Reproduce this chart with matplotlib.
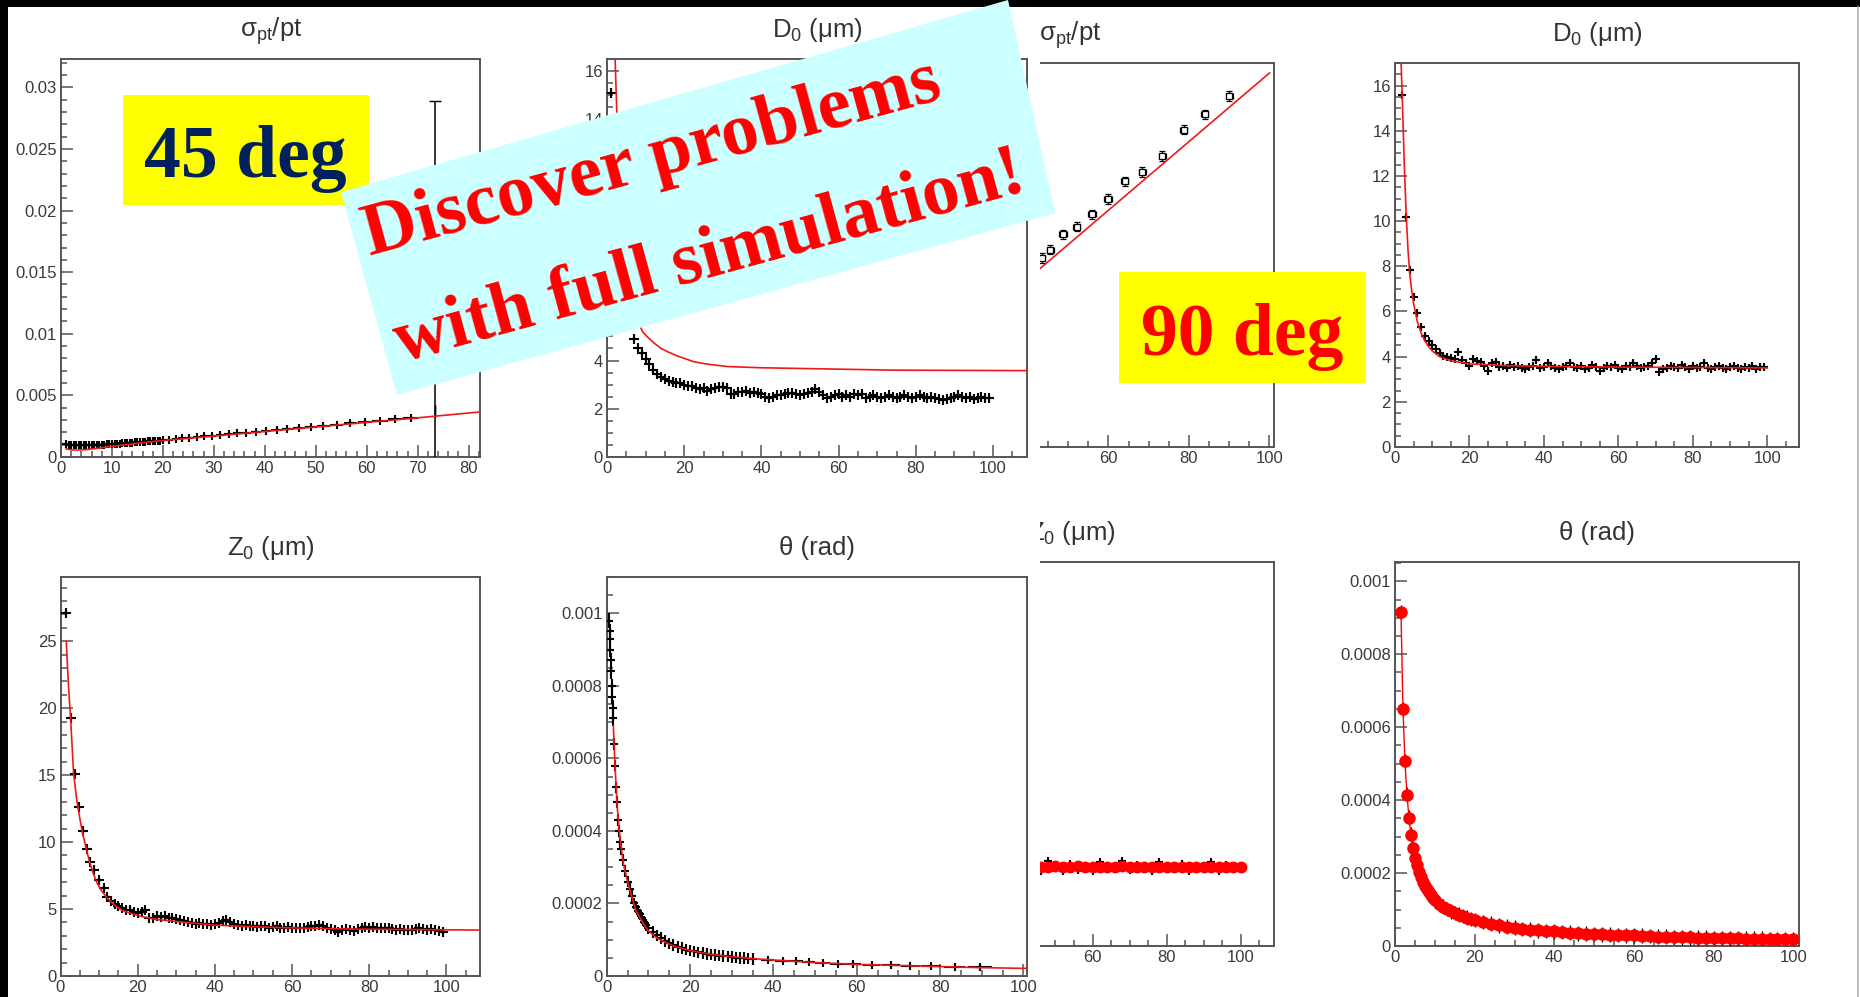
import matplotlib
matplotlib.use('Agg')
import matplotlib.pyplot as plt
from matplotlib.ticker import MultipleLocator, FuncFormatter
from matplotlib.patches import Polygon, Rectangle

plt.rcParams['font.family'] = ['Liberation Sans', 'DejaVu Sans']
plt.rcParams['mathtext.fontset'] = 'custom'
plt.rcParams['mathtext.rm'] = 'Liberation Sans'
plt.rcParams['mathtext.it'] = 'Liberation Sans:italic'

# ---------------- data: 45 deg ----------------
# sigma_pt/pt (45 deg)
spt45_x = [1.0, 1.5, 2.0, 2.5, 3.0, 3.5, 4.0, 4.5, 5.0, 5.5, 6.0, 6.5, 7.0, 7.5,
           8.0, 8.5, 9.0, 9.5, 10.0, 10.5, 11.0, 11.5, 12.0, 12.5, 13.0, 13.5,
           14.0, 14.5, 15.0, 15.5, 16.0, 16.5, 17.0, 17.5, 18.0, 18.5, 19.0,
           19.5, 20.0]
spt45_y = [0.00105, 0.00100, 0.00098, 0.00096, 0.00095, 0.00094, 0.00094,
           0.00094, 0.00095, 0.00095, 0.00096, 0.00097, 0.00098, 0.00099,
           0.00100, 0.00101, 0.00102, 0.00104, 0.00105, 0.00106, 0.00108,
           0.00109, 0.00111, 0.00112, 0.00114, 0.00115, 0.00117, 0.00118,
           0.00120, 0.00121, 0.00123, 0.00124, 0.00126, 0.00127, 0.00129,
           0.00130, 0.00132, 0.00133, 0.00135]
spt45_x2 = [21.2, 22.5, 23.8, 25.2, 26.6, 28.1, 29.6, 31.2, 32.9, 34.6, 36.4,
            38.3, 40.2, 42.3, 44.4, 46.7, 49.0, 51.5, 54.1, 56.8, 59.6, 62.6,
            65.6, 68.6]
spt45_xe2 = [0.6, 0.65, 0.65, 0.7, 0.7, 0.75, 0.75, 0.8, 0.85, 0.85, 0.9, 0.95,
             0.95, 1.05, 1.05, 1.15, 1.15, 1.25, 1.3, 1.35, 1.4, 1.5, 1.5, 1.5]
spt45_y2 = [0.00141, 0.00146, 0.00151, 0.00156, 0.00161, 0.00167, 0.00172,
            0.00178, 0.00185, 0.00191, 0.00198, 0.00205, 0.00212, 0.00220,
            0.00227, 0.00236, 0.00244, 0.00254, 0.00263, 0.00273, 0.00284,
            0.00295, 0.00306, 0.00317]
spt45_out_x, spt45_out_y, spt45_out_e = [73.4], [0.0037], [0.0252]
spt45_fit_x = [1, 2, 3, 5, 7, 10, 15, 20, 30, 40, 50, 60, 70, 82.3]
spt45_fit_y = [0.00066, 0.00058, 0.00056, 0.0006, 0.0007, 0.00086, 0.00111,
               0.00134, 0.0017, 0.00207, 0.00244, 0.00281, 0.00318, 0.00366]

# D0 (45 deg)
d045_x = list(range(1, 100))
d045_y = [15.1, 12.0, 9.6, 7.9, 6.7, 5.5, 4.9, 4.5, 4.3, 4.05,
          3.85, 3.6, 3.45, 3.33, 3.25, 3.15, 3.1, 3.05, 3.05, 3.0,
          2.95, 2.95, 2.85, 2.8, 2.85, 2.75, 2.8, 2.85, 2.9, 2.9,
          2.85, 2.6, 2.6, 2.7, 2.7, 2.75, 2.65, 2.7, 2.65, 2.6,
          2.5, 2.45, 2.5, 2.55, 2.55, 2.6, 2.65, 2.65, 2.6, 2.55,
          2.6, 2.65, 2.7, 2.8, 2.7, 2.55, 2.45, 2.5, 2.55, 2.6,
          2.5, 2.55, 2.5, 2.6, 2.55, 2.6, 2.45, 2.5, 2.55, 2.5,
          2.45, 2.5, 2.55, 2.5, 2.45, 2.5, 2.55, 2.5, 2.45, 2.5,
          2.55, 2.5, 2.45, 2.5, 2.45, 2.4, 2.35, 2.4, 2.45, 2.5,
          2.55, 2.5, 2.45, 2.5, 2.4, 2.45, 2.5, 2.45, 2.45]
d045_fit_x = [2.1, 2.3, 2.6, 3, 4, 5, 6, 7, 7.8, 8.5, 9.2, 10.4, 12, 13.9,
              15.5, 18.2, 22.5, 26, 31.2, 39.8, 57.2, 74.6, 108.8]
d045_fit_y = [16.5, 15.5, 14.0, 12.5, 9.8, 8.1, 6.9, 6.15, 5.68, 5.45, 5.2,
              4.99, 4.75, 4.51, 4.38, 4.19, 3.95, 3.85, 3.75, 3.7, 3.65, 3.6,
              3.58]

# Z0 (45 deg)
z045_x = [1.3, 2.6, 3.8, 4.9, 5.9, 6.8, 7.7, 8.6, 9.9, 11.2] + list(range(12, 100))
z045_y = [27.1, 19.3, 15.1, 12.6, 10.8, 9.5, 8.5, 7.9, 7.2, 6.6,
          5.9, 5.6, 5.35, 5.2, 5.1, 4.95, 4.9, 4.8, 4.7,
          4.75, 4.9, 4.3, 4.35, 4.45, 4.4, 4.45, 4.35, 4.3, 4.25,
          4.2, 4.1, 4.0, 3.95, 3.9, 3.95, 3.9, 3.85, 3.8, 3.85,
          3.95, 4.1, 4.15, 4.0, 3.85, 3.8, 3.75, 3.8, 3.7, 3.75,
          3.65, 3.7, 3.75, 3.6, 3.65, 3.7, 3.6, 3.55, 3.65, 3.6,
          3.55, 3.6, 3.55, 3.65, 3.7, 3.75, 3.8, 3.7, 3.6, 3.5,
          3.45, 3.3, 3.4, 3.5, 3.45, 3.35, 3.5, 3.6, 3.65, 3.6,
          3.65, 3.6, 3.55, 3.6, 3.55, 3.5, 3.45, 3.5, 3.4, 3.45,
          3.4, 3.5, 3.55, 3.5, 3.45, 3.5, 3.4, 3.35, 3.3]
z045_fit_x = [1.5, 2, 2.6, 3.4, 4.1, 4.8, 5.7, 6.6, 7.5, 8.5, 9.4, 10.3, 12.2,
              14, 15.9, 18.5, 21.4, 25, 30.7, 39.9, 50, 58.5, 77, 108.8]
z045_fit_y = [25.0, 22.0, 19.3, 15.1, 13.4, 12.1, 10.7, 9.6, 8.55, 7.65, 7.0,
              6.5, 5.79, 5.3, 4.92, 4.65, 4.42, 4.22, 4.05, 3.8, 3.68, 3.6,
              3.5, 3.43]

# theta (45 deg)
th45_xa = [0.6, 0.7, 0.8, 0.9, 1.0, 1.1, 1.2, 1.3, 1.4, 1.5]
th45_ya = [0.00098, 0.00095, 0.00093, 0.0009, 0.00087, 0.00084, 0.0008,
           0.00077, 0.00074, 0.00071]
th45_xb = [1.75, 2, 2.25, 2.5, 2.75, 3, 3.25, 3.5, 4, 4.5, 5, 5.5, 6, 6.5, 7,
           7.5, 8, 8.5, 9, 9.5, 10, 11, 12, 13, 14, 15, 16, 17, 18, 19, 20,
           21, 22, 23, 24, 25, 26, 27, 28, 29, 30, 31, 32, 33, 34, 35]
th45_yb = [0.00064, 0.00058, 0.00052, 0.00048, 0.00043, 0.0004, 0.00037,
           0.00035, 0.00032, 0.00029, 0.00026, 0.00024, 0.00022, 0.0002,
           0.00019, 0.00018, 0.00017, 0.00016, 0.00015, 0.00014, 0.000133,
           0.000122, 0.000112, 0.000104, 0.000097, 0.00009, 0.000085, 0.00008,
           0.000077, 0.000073, 0.00007, 0.000068, 0.000065, 0.000063,
           0.000061, 0.000059, 0.000058, 0.000056, 0.000055, 0.000054,
           0.000052, 0.000051, 0.00005, 0.000049, 0.000048, 0.000047]
th45_xc = [38.6, 42.2, 45.4, 48.5, 51.8, 55.4, 59.1, 63.6, 68.2, 72.9, 77.9,
           83.5, 89.6]
th45_xec = [1.6, 1.7, 1.6, 1.6, 1.7, 1.8, 1.9, 2.1, 2.2, 2.3, 2.4, 2.6, 2.8]
th45_yc = [0.000045, 0.000042, 0.00004, 0.000038, 0.000036, 0.000034,
           0.000033, 0.000031, 0.00003, 0.000028, 0.000027, 0.000026, 0.000024]
th45_fit_x = [1.6, 2, 2.5, 3, 3.4, 4, 5, 5.8, 7, 8, 9.8, 12, 13.7, 16, 20, 25,
              30, 35, 40, 50, 60, 70, 80, 90, 100.8]
th45_fit_y = [0.00069, 0.00058, 0.00047, 0.0004, 0.00036, 0.00031, 0.00026,
              0.000228, 0.00018, 0.00016, 0.000127, 0.000105, 0.000095,
              0.000083, 0.00007, 0.00006, 0.000053, 0.000048, 0.000044,
              0.000037, 0.000032, 0.000029, 0.000026, 0.000023, 0.000021]

# ---------------- data: 90 deg ----------------
spt90_x = [43.4, 45.5, 48.7, 52.1, 55.9, 59.9, 64.0, 68.4, 73.4, 78.7, 83.9, 90.0]
spt90_y = [0.00246, 0.00257, 0.00277, 0.00287, 0.00303, 0.00323, 0.00346,
           0.00358, 0.00379, 0.00413, 0.00433, 0.00457]
spt90_fit_x = [40, 100]
spt90_fit_y = [0.00219, 0.00487]

d090_x = list(range(2, 100))
d090_y = [15.6, 10.2, 7.85, 6.65, 5.95, 5.3, 4.9, 4.7, 4.5,
          4.35, 4.15, 4.05, 4.0, 3.95, 3.9, 4.2, 3.85, 3.7, 3.6,
          3.9, 3.8, 3.75, 3.6, 3.35, 3.7, 3.75, 3.55, 3.6, 3.5,
          3.65, 3.55, 3.6, 3.5, 3.45, 3.55, 3.6, 3.85, 3.5, 3.55,
          3.7, 3.6, 3.5, 3.45, 3.55, 3.6, 3.7, 3.55, 3.5, 3.6,
          3.45, 3.5, 3.65, 3.55, 3.35, 3.5, 3.6, 3.55, 3.65, 3.5,
          3.45, 3.6, 3.55, 3.7, 3.6, 3.5, 3.55, 3.6, 3.7, 3.9,
          3.3, 3.45, 3.5, 3.6, 3.55, 3.5, 3.65, 3.55, 3.45, 3.6,
          3.5, 3.55, 3.7, 3.5, 3.45, 3.55, 3.6, 3.5, 3.45, 3.55,
          3.6, 3.5, 3.45, 3.55, 3.5, 3.6, 3.45, 3.55, 3.55]
d090_fit_x = [1.6, 2, 2.5, 3, 3.5, 4, 4.5, 5, 6, 7, 8, 9, 10, 12, 15, 20, 30,
              50, 100]
d090_fit_y = [17.2, 15.2, 12.5, 10.3, 8.7, 7.6, 6.9, 6.35, 5.55, 5.05, 4.7,
              4.45, 4.25, 4.0, 3.82, 3.68, 3.6, 3.55, 3.5]

z090_x = [44, 46, 48, 50, 52, 54, 56, 58, 60, 62, 64, 66, 68, 70, 72, 74, 76,
          78, 80, 82, 84, 86, 88, 90, 92, 94, 96, 98, 100]
z090_fit = [3.52, 3.5, 3.51, 3.53, 3.5, 3.49, 3.52, 3.5, 3.51, 3.5, 3.48, 3.5,
            3.52, 3.5, 3.49, 3.5, 3.51, 3.5, 3.48, 3.5, 3.5, 3.49, 3.51, 3.5,
            3.48, 3.5, 3.49, 3.5, 3.5]
z090_meas = [3.6, 3.3, 3.75, 3.45, 3.3, 3.65, 3.35, 3.55, 3.3, 3.7, 3.4, 3.5,
             3.75, 3.35, 3.6, 3.45, 3.3, 3.7, 3.5, 3.4, 3.65, 3.3, 3.55, 3.45,
             3.7, 3.3, 3.6, 3.4, 3.5]

th90_x = [1.5, 2, 2.5, 3, 3.5, 4, 4.5, 5, 5.5, 6, 6.5, 7, 7.5, 8, 8.5, 9, 9.5,
          10, 11, 12, 13, 14, 15, 16, 17, 18, 19, 20, 22, 24, 26, 28, 30, 32,
          34, 36, 38, 40, 42, 44, 46, 48, 50, 52, 54, 56, 58, 60, 62, 64, 66,
          68, 70, 72, 74, 76, 78, 80, 82, 84, 86, 88, 90, 92, 94, 96, 98, 100]
th90_y = [0.000916, 0.00065, 0.000506, 0.000415, 0.000352, 0.000305,
          0.000269, 0.000242, 0.000221, 0.000203, 0.000188, 0.000176,
          0.000165, 0.000155, 0.000147, 0.000139, 0.000132, 0.000126,
          0.000115, 0.000108, 0.000101, 0.000095, 0.00009, 0.000086,
          0.000082, 0.000078, 0.000074, 0.000071, 0.000066, 0.000061,
          0.000057, 0.000053, 0.00005, 0.000047, 0.000045, 0.000043, 0.000041,
          0.00004, 0.000038, 0.000037, 0.000035, 0.000034, 0.000033, 0.000032,
          0.000031, 0.00003, 0.000029, 0.000029, 0.000028, 0.000027, 0.000026,
          0.000026, 0.000025, 0.000024, 0.000024, 0.000023, 0.000023, 0.000022,
          0.000022, 0.000021, 0.000021, 0.00002, 0.00002, 0.00002, 0.000019,
          0.000019, 0.000019, 0.000018]

W, H = 1860, 997
fig = plt.figure(figsize=(W / 100, H / 100), dpi=100, facecolor='black')


def px_axes(l, t, r, b, z):
    return fig.add_axes([l / W, 1 - b / H, (r - l) / W, (b - t) / H], zorder=z)


def white_sheet(l, t, r, b, z):
    fig.add_artist(Rectangle((l / W, 1 - b / H), (r - l) / W, (b - t) / H,
                             transform=fig.transFigure, fc='white', ec='none',
                             zorder=z))


def root_panel(l, t, r, b, z, xlim, ylim, xt, yt, title):
    ax = px_axes(l, t, r, b, z)
    ax.set_facecolor('white')
    ax.set_xlim(*xlim)
    ax.set_ylim(*ylim)
    ax.xaxis.set_major_locator(MultipleLocator(xt[0]))
    ax.xaxis.set_minor_locator(MultipleLocator(xt[1]))
    ax.yaxis.set_major_locator(MultipleLocator(yt[0]))
    ax.yaxis.set_minor_locator(MultipleLocator(yt[1]))
    fmt = FuncFormatter(lambda v, p: f'{v:g}')
    ax.xaxis.set_major_formatter(fmt)
    ax.yaxis.set_major_formatter(fmt)
    ax.tick_params(which='both', direction='in', top=False, right=False,
                   color='#555555', labelcolor='#3a3a3a', labelsize=12, width=1.1)
    ax.tick_params(which='major', length=8.5)
    ax.tick_params(which='minor', length=4.3)
    ax.tick_params(axis='x', pad=3)
    ax.tick_params(axis='y', pad=3)
    for s in ax.spines.values():
        s.set_color('#555555')
        s.set_linewidth(1.4)
    ax.set_title(title, fontsize=18.5, color='#333333', pad=16)
    return ax


def meas(ax, x, y, xe, ye, ms=6):
    ax.errorbar(x, y, xerr=xe, yerr=ye, fmt='+', color='black', ms=ms,
                mew=1.5, elinewidth=1.5, zorder=3)


RED_FIT = '#f01818'


def fit(ax, x, y):
    ax.plot(x, y, color=RED_FIT, lw=1.2, zorder=4)


# ---------------- right picture (90 deg), drawn underneath ----------------
white_sheet(1040, 7, 1860, 997, 0.5)

ax3 = root_panel(867, 63, 1273.5, 447, 1, (0, 101), (0, 0.005),
                 (20, 5), (0.001, 0.0002), r'σ$\mathregular{_{pt}}$/pt')
ax3.errorbar(spt90_x, spt90_y, xerr=0.9, yerr=0.00006, fmt='s', mfc='white',
             mec='black', ecolor='black', ms=4.5, mew=0.9, elinewidth=0.9,
             capsize=2.5, zorder=3)
ax3.plot(spt90_fit_x, spt90_fit_y, color=RED_FIT, lw=1.2, zorder=4)

ax4 = root_panel(1395, 63, 1799, 447, 1, (0, 108.5), (0, 17.0),
                 (20, 5), (2, 0.5), r'D$\mathregular{_0}$ (μm)')
meas(ax4, d090_x, d090_y, 0.5, 0.13)
fit(ax4, d090_fit_x, d090_fit_y)

ax7 = root_panel(870, 562, 1273.5, 946, 1, (0, 108.8), (0, 17.0),
                 (20, 5), (2, 0.5), r'Z$\mathregular{_0}$ (μm)')
meas(ax7, z090_x, z090_meas, 0.5, 0.12)
ax7.plot(z090_x, z090_fit, color='red', marker='o', ms=7.5, lw=1, zorder=4)

ax8 = root_panel(1395, 562, 1799, 946, 1, (0, 101.4), (0, 0.001053),
                 (20, 5), (0.0002, 0.00005), 'θ (rad)')
ax8.errorbar(th90_x, th90_y, xerr=0.25, yerr=0.00002, fmt='none',
             ecolor='black', elinewidth=0.9, zorder=3)
ax8.plot(th90_x, th90_y, color='red', marker='o', ms=8, lw=1, zorder=4)

# ---------------- left picture (45 deg), on top ----------------
white_sheet(8, 7, 1040, 997, 2)

ax1 = root_panel(61, 59, 480.4, 457, 3, (0, 82.3), (0, 0.0323),
                 (10, 2), (0.005, 0.001), r'σ$\mathregular{_{pt}}$/pt')
meas(ax1, spt45_x, spt45_y, 0.25, 0.00013)
meas(ax1, spt45_x2, spt45_y2, spt45_xe2, 0.00013)
ax1.errorbar(spt45_out_x, spt45_out_y, xerr=0.0, yerr=spt45_out_e, fmt='none',
             ecolor='black', elinewidth=1.1, capsize=4, zorder=3)
fit(ax1, spt45_fit_x, spt45_fit_y)

ax2 = root_panel(607, 59, 1027, 457, 3, (0, 108.8), (0, 16.5),
                 (20, 5), (2, 0.5), r'D$\mathregular{_0}$ (μm)')
meas(ax2, d045_x, d045_y, 0.5, 0.15, ms=7)
fit(ax2, d045_fit_x, d045_fit_y)

ax5 = root_panel(60.5, 577, 480.4, 976, 3, (0, 108.8), (0, 29.8),
                 (20, 5), (5, 1), r'Z$\mathregular{_0}$ (μm)')
meas(ax5, z045_x, z045_y, 0.5, 0.22, ms=7)
fit(ax5, z045_fit_x, z045_fit_y)

ax6 = root_panel(606.7, 577, 1026.7, 976, 3, (0, 100.8), (0, 0.0011),
                 (20, 5), (0.0002, 0.00005), 'θ (rad)')
meas(ax6, th45_xa, th45_ya, 0.5, 0.00002)
meas(ax6, th45_xb, th45_yb, 0.45, 0.000016)
meas(ax6, th45_xc, th45_yc, th45_xec, 0.000007)
fit(ax6, th45_fit_x, th45_fit_y)

# ---------------- slide overlays (pixel coordinates) ----------------
ov = fig.add_axes([0, 0, 1, 1], zorder=10)
ov.set_xlim(0, W)
ov.set_ylim(H, 0)
ov.axis('off')

ov.plot([1858, 1858], [7, 997], color='#b0b0b0', lw=1.2)

ov.add_patch(Rectangle((122.6, 95), 246.3, 110, fc='#ffff00', ec='none', zorder=1))
ov.add_patch(Rectangle((1119, 272), 247, 111, fc='#ffff00', ec='none', zorder=1))
ov.add_patch(Polygon([(341, 192), (1008, 0), (1055, 213), (397, 395)],
                     closed=True, fc='#ccffff', ec='none', zorder=2))

serif = dict(family='Liberation Serif', fontweight='bold', zorder=3)
ov.text(245, 177, '45 deg', ha='center', va='baseline', fontsize=53,
        color='#00215e', **serif)
ov.text(1242, 355, '90 deg', ha='center', va='baseline', fontsize=53,
        color='#ff0000', **serif)
ov.text(657, 177, 'Discover problems', ha='center', va='baseline',
        rotation=15.3, rotation_mode='anchor', fontsize=54, color='#ff0000',
        **serif)
ov.text(715, 276, 'with full simulation!', ha='center', va='baseline',
        rotation=15.3, rotation_mode='anchor', fontsize=54, color='#ff0000',
        **serif)

fig.savefig('out.png', dpi=100, facecolor='black')
